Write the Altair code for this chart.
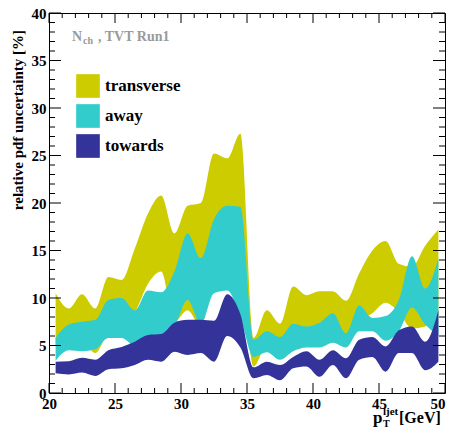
import altair as alt
import pandas as pd

# ---------------- data ----------------
pt = [20.5, 21.5, 22.5, 23.5, 24.5, 25.5, 26.5, 27.5, 28.5, 29.5,
      30.5, 31.5, 32.5, 33.5, 34.5, 35.5, 36.5, 37.5, 38.5, 39.5,
      40.5, 41.5, 42.5, 43.5, 44.5, 45.5, 46.5, 47.5, 48.5, 49.5]

transverse_hi = [10.5, 8.9, 10.4, 8.9, 12.2, 11.9, 15.2, 18.9, 20.8, 16.8,
                 19.7, 20.0, 25.2, 24.7, 27.3, 5.8, 8.7, 7.3, 11.2, 10.3,
                 10.7, 10.7, 9.7, 12.6, 15.0, 16.0, 13.6, 13.3, 15.5, 17.2]
transverse_lo = [5.0, 5.5, 5.5, 4.2, 6.5, 7.5, 8.5, 11.5, 12.8, 7.5,
                 8.7, 7.0, 12.0, 13.0, 13.0, 2.8, 5.0, 4.5, 5.5, 5.5,
                 6.0, 6.5, 5.8, 7.5, 8.4, 9.5, 8.5, 6.8, 7.0, 8.0]

away_hi = [5.8, 7.2, 7.5, 7.7, 9.8, 10.0, 8.7, 10.8, 10.6, 12.8,
           16.8, 14.2, 18.3, 19.7, 19.6, 5.6, 6.5, 5.9, 7.3, 7.0,
           7.4, 8.4, 6.3, 9.2, 7.9, 8.1, 9.8, 14.4, 11.0, 14.2]
away_lo = [3.4, 4.5, 4.4, 4.6, 5.8, 5.8, 5.0, 5.5, 6.0, 7.0,
           9.8, 7.3, 10.5, 10.8, 8.0, 3.8, 4.3, 3.5, 4.4, 4.8,
           4.8, 5.3, 4.8, 6.5, 6.5, 5.5, 6.5, 9.0, 7.2, 6.0]

towards_hi = [3.3, 3.35, 3.7, 3.5, 4.5, 4.85, 5.4, 6.1, 6.2, 7.4,
              7.7, 7.7, 7.6, 10.4, 8.3, 2.7, 3.3, 2.95, 3.8, 4.4,
              3.5, 4.5, 3.65, 5.6, 5.9, 4.9, 6.6, 7.0, 5.4, 8.7]
towards_lo = [2.07, 1.95, 2.15, 1.8, 2.5, 2.6, 2.95, 3.5, 3.3, 4.35,
              4.0, 4.2, 3.3, 6.0, 4.8, 1.55, 1.9, 1.35, 2.6, 2.8,
              1.7, 2.95, 1.55, 3.5, 3.8, 2.25, 4.2, 4.2, 2.4, 3.3]

series_names = ["transverse", "away", "towards"]
series_colors = ["#cccc00", "#33cccc", "#333399"]

x_major = [20, 25, 30, 35, 40, 45, 50]
x_minor = [v for v in range(21, 50) if v % 5 != 0]
y_major = [0, 5, 10, 15, 20, 25, 30, 35, 40]
y_minor = [v for v in range(1, 40) if v % 5 != 0]

# ---------------- layout ----------------
W, H = 396, 380
FONT = "Liberation Serif"

rows = []
for name, lo, hi in zip(series_names,
                        [transverse_lo, away_lo, towards_lo],
                        [transverse_hi, away_hi, towards_hi]):
    for x, a, b in zip(pt, lo, hi):
        rows.append({"series": name, "x": x, "lo": a, "hi": b})
df = pd.DataFrame(rows)

xscale = alt.Scale(domain=[20, 50], nice=False, zero=False)
yscale = alt.Scale(domain=[0, 40], nice=False, zero=False)

x_axis = alt.Axis(values=x_major, title=None, ticks=False, domain=False, grid=False,
                  labelFont=FONT, labelFontWeight="bold", labelFontSize=15,
                  labelColor="black", labelPadding=3, labelFlush=False,
                  labelAlign={"condition": {"test": "datum.value === 50", "value": "right"},
                              "value": "center"},
                  labelOverlap=False, labelBound=False, format="d")
y_axis = alt.Axis(values=y_major, title=None, ticks=False, domain=False, grid=False,
                  labelFont=FONT, labelFontWeight="bold", labelFontSize=15,
                  labelColor="black", labelPadding=3, labelFlush=False,
                  labelOverlap=False, labelBound=False, format="d")

color = alt.Color("series:N",
                  scale=alt.Scale(domain=series_names, range=series_colors),
                  legend=alt.Legend(orient="none", legendX=27, legendY=61, title=None,
                                    symbolType="square", symbolSize=560,
                                    symbolStrokeWidth=0, symbolOpacity=1,
                                    labelFont=FONT, labelFontWeight="bold",
                                    labelFontSize=17, labelColor="black",
                                    rowPadding=6, labelOffset=5, padding=0))

layers = []
for name in series_names:
    layers.append(
        alt.Chart(df).transform_filter(alt.datum.series == name)
        .mark_area(interpolate="monotone", opacity=1)
        .encode(x=alt.X("x:Q", scale=xscale, axis=x_axis),
                y=alt.Y("hi:Q", scale=yscale, axis=y_axis),
                y2="lo:Q",
                color=color)
    )

# inward ROOT-style ticks on all four sides
def xticks(vals, length):
    d = pd.DataFrame({"x": vals})
    xe = alt.X("x:Q", scale=xscale, axis=x_axis)
    bottom = alt.Chart(d).mark_rule(color="black", strokeWidth=1).encode(
        x=xe, y=alt.value(H), y2=alt.value(H - length))
    top = alt.Chart(d).mark_rule(color="black", strokeWidth=1).encode(
        x=xe, y=alt.value(0), y2=alt.value(length))
    return [bottom, top]

def yticks(vals, length):
    d = pd.DataFrame({"hi": vals})
    ye = alt.Y("hi:Q", scale=yscale, axis=y_axis)
    left = alt.Chart(d).mark_rule(color="black", strokeWidth=1).encode(
        y=ye, x=alt.value(0), x2=alt.value(length))
    right = alt.Chart(d).mark_rule(color="black", strokeWidth=1).encode(
        y=ye, x=alt.value(W), x2=alt.value(W - length))
    return [left, right]

layers += xticks(x_major, 10) + xticks(x_minor, 5)
layers += yticks(y_major, 12) + yticks(y_minor, 6)

def label(txt, x, y, size, color="black", angle=0, align="left", baseline="alphabetic"):
    kw = dict(font=FONT, fontWeight="bold", fontSize=size, color=color,
              align=align, baseline=baseline)
    if angle:
        kw["angle"] = angle
    return alt.Chart(pd.DataFrame({"t": [txt]})).mark_text(**kw).encode(
        text="t:N", x=alt.value(x), y=alt.value(y))

grey = "#9a9a9a"
layers += [
    label("N", 23, 28, 14, grey),
    label("ch", 34, 31, 10, grey),
    label(", TVT Run1", 49, 28, 14, grey),
    label("relative pdf uncertainty [%]", -26, 17, 15, angle=270, align="right"),
    label("p", 324, 410, 17),
    label("ljet", 334, 402, 11),
    label("T", 334, 414, 10),
    label("[GeV]", 350, 410, 16),
]

chart = alt.layer(*layers).properties(
    width=W, height=H,
    autosize=alt.AutoSizeParams(type="none"),
    padding={"left": 41, "top": 5, "right": 1, "bottom": 36},
    background="white",
).configure_view(stroke="black", strokeWidth=1)

chart.save("out.html", embed_options={"renderer": "svg", "actions": False})
